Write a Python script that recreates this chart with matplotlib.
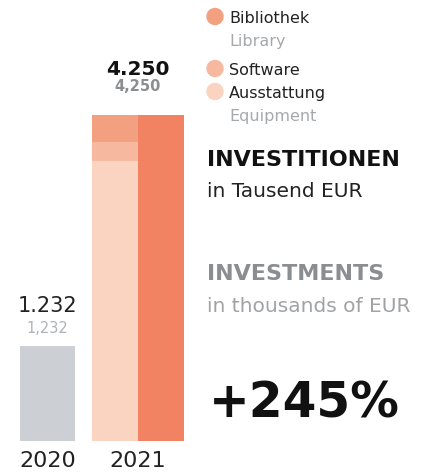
import matplotlib.pyplot as plt
from matplotlib.patches import Ellipse

years = ['2020', '2021']
total_2020 = 1232
total_2021 = 4250
parts_2021 = ['Ausstattung', 'Software', 'Bibliothek']
parts_2021_en = ['Equipment', None, 'Library']
parts_2021_vals = [3650, 250, 350]

part_colors = ['#FAD3C1', '#F6B9A0', '#F3A080']
total_color = '#F18262'
gray_bar = '#CCCFD3'

W, H = 423, 474
fig = plt.figure(figsize=(W / 100, H / 100), dpi=100)
plt.rcParams['font.family'] = ['DejaVu Sans']

def px(x, y):
    return x / W, 1 - y / H

# axes: pixel 0..200 horizontally, baseline at y=441, 400 px tall
ax = fig.add_axes([0, 33 / H, 200 / W, 400 / H])
unit = 67.5
ax.set_xlim(-47.5 / unit, (200 - 47.5) / unit)
ax.set_ylim(0, 400 * total_2021 / 326)
ax.axis('off')

x2020, x2021 = 0, 1
w2020, w2021 = 55 / unit, 46 / unit
ax.bar(x2020, total_2020, width=w2020, color=gray_bar)
bottom = 0
for v, c in zip(parts_2021_vals, part_colors):
    ax.bar(x2021, v, width=w2021, bottom=bottom, color=c)
    bottom += v
ax.bar(x2021 + w2021, total_2021, width=w2021, color=total_color)
xc = x2021 + w2021 / 2

def label(x, y, s, dy, **kw):
    ax.annotate(s, (x, y), xytext=(0, dy), textcoords='offset points',
                ha='center', va='baseline', **kw)

# value labels
label(x2020, total_2020, f'{total_2020:,}'.replace(',', '.'), 24.5, fontsize=15, color='#222222')
label(x2020, total_2020, f'{total_2020:,}', 10, fontsize=10.5, color='#B0B3B6')
label(xc, total_2021, f'{total_2021:,}'.replace(',', '.'), 28.5, fontsize=14.5, color='#111111', fontweight='bold')
label(xc, total_2021, f'{total_2021:,}', 17, fontsize=10.5, color='#8A8E91', fontweight='bold')

# year labels
label(x2020, 0, years[0], -18.7, fontsize=16, color='#222222')
label(xc, 0, years[1], -18.7, fontsize=16, color='#222222')

# legend
leg_y = {'Bibliothek': 23, 'Software': 75, 'Ausstattung': 98}
for name, en, c in zip(parts_2021, parts_2021_en, part_colors):
    y = leg_y[name]
    fig.add_artist(Ellipse(px(215, y - 6.5), 16 / W, 16 / H, color=c, transform=fig.transFigure))
    fig.text(*px(229, y), name, ha='left', va='baseline', fontsize=11.5, color='#222222')
    if en:
        fig.text(*px(229, y + 23), en, ha='left', va='baseline', fontsize=11.5, color='#A6A9AC')

fig.text(*px(207, 166), 'INVESTITIONEN', ha='left', va='baseline', fontsize=16, fontweight='bold', color='#111111')
fig.text(*px(207, 197), 'in Tausend EUR', ha='left', va='baseline', fontsize=14.5, color='#222222')
fig.text(*px(207, 280), 'INVESTMENTS', ha='left', va='baseline', fontsize=16, fontweight='bold', color='#8A8E91')
fig.text(*px(207, 312), 'in thousands of EUR', ha='left', va='baseline', fontsize=14.5, color='#A0A3A6')
fig.text(*px(209, 417), '+245%', ha='left', va='baseline', fontsize=35, fontweight='bold', color='#111111')

fig.savefig('out.png', dpi=100)
